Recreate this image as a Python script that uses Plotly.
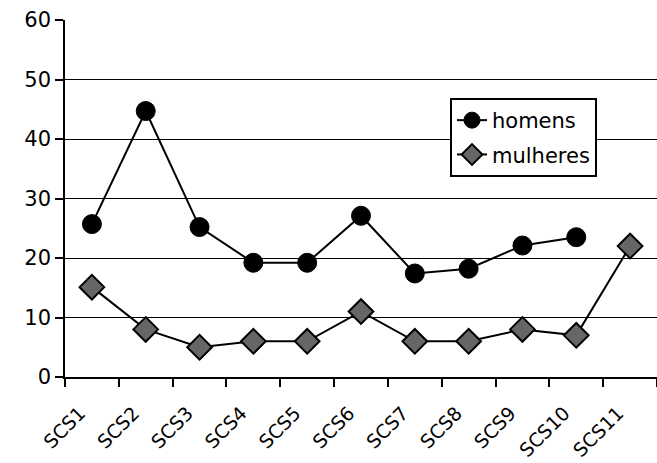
import plotly.graph_objects as go

categories = ["SCS1", "SCS2", "SCS3", "SCS4", "SCS5", "SCS6", "SCS7", "SCS8", "SCS9", "SCS10", "SCS11"]
homens = [25.7, 44.7, 25.2, 19.2, 19.2, 27.1, 17.4, 18.2, 22.1, 23.5, None]
mulheres = [15.1, 8.0, 5.0, 6.0, 6.0, 11.0, 6.0, 6.0, 8.0, 7.0, 22.0]
y_ticks = [0, 10, 20, 30, 40, 50, 60]

FONT = "'DejaVu Sans', sans-serif"

fig = go.Figure()
fig.add_trace(go.Scatter(
    x=categories, y=homens, name="homens", mode="lines+markers",
    legendgroup="h",
    line=dict(color="black", width=2),
    marker=dict(symbol="circle", size=19, color="black", line=dict(color="black", width=1)),
    connectgaps=False,
))
fig.add_trace(go.Scatter(
    x=categories, y=mulheres, name="mulheres", mode="lines+markers",
    legendgroup="m",
    line=dict(color="black", width=2),
    marker=dict(symbol="diamond", size=19, color="#666666", line=dict(color="black", width=2)),
))

fig.update_layout(
    width=657, height=463,
    margin=dict(l=65, r=0, t=20, b=86),
    paper_bgcolor="white", plot_bgcolor="white",
    font=dict(family=FONT, size=20, color="black"),
    showlegend=True,
    legend=dict(
        x=(450 - 65) / 592, y=(377 - 98) / 357, xanchor="left", yanchor="top",
        bgcolor="white", bordercolor="black", borderwidth=2,
        font=dict(family=FONT, size=21, color="black"),
        itemwidth=30, traceorder="grouped", tracegroupgap=4,
    ),
    xaxis=dict(
        type="category", categoryorder="array", categoryarray=categories,
        range=[-0.5, 10.5], automargin=False,
        showline=True, linecolor="black", linewidth=1.5,
        ticks="outside", tickson="boundaries", ticklen=8, tickcolor="black", tickwidth=1.5,
        tickangle=-45, tickfont=dict(family=FONT, size=19, color="black"),
        ticklabelstandoff=16, ticklabelshift=-12,
        showgrid=False, zeroline=False,
    ),
    yaxis=dict(
        range=[0, 60], tickvals=y_ticks, automargin=False,
        showline=True, linecolor="black", linewidth=1.5,
        ticks="outside", ticklen=8, tickcolor="black", tickwidth=1.5,
        showgrid=True, gridcolor="black", gridwidth=1,
        zeroline=False,
        tickfont=dict(family=FONT, size=21, color="black"),
    ),
)

fig.write_html(
    "out.html",
    config={"displayModeBar": False},
    post_script="document.body.style.margin='0';document.body.style.overflow='hidden';",
)
